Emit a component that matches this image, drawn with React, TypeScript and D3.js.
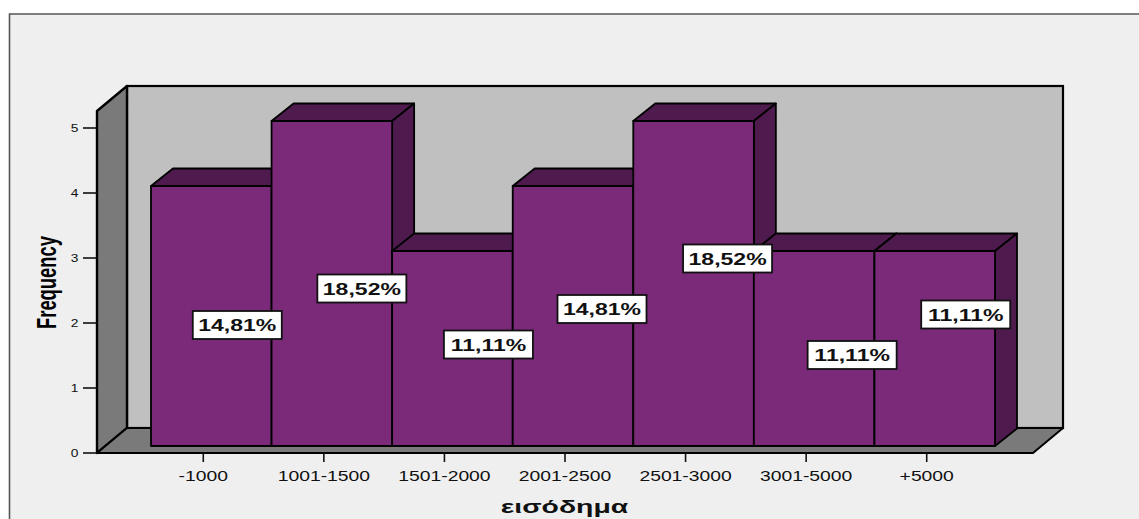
import React from "react";
import * as d3 from "d3";

const categories = ["-1000", "1001-1500", "1501-2000", "2001-2500", "2501-3000", "3001-5000", "+5000"];
const frequencies = [4, 5, 3, 4, 5, 3, 3];
const percentLabels = ["14,81%", "18,52%", "11,11%", "14,81%", "18,52%", "11,11%", "11,11%"];
const yTicks = [0, 1, 2, 3, 4, 5];
const xTitle = "εισόδημα";
const yTitle = "Frequency";

// Layout of the percent boxes (centre offset from bar centre, centre y in pixels)
const labelDx = [26, 30, 36, 29, 34, 38, 31];
const labelCy = [325, 288.5, 344.5, 309, 258.5, 355, 314.5];

const W = 1139, H = 519;
const FONT = "'Liberation Sans', Arial, sans-serif";
const PANEL = "#EFEFEF", WALL = "#C0C0C0", SIDE = "#7A7A7A", BAR = "#7B2979", BAR_DARK = "#4F1B4F";

const y = d3.scaleLinear().domain([0, 5]).range([453, 128]);
const x = d3.scaleBand<string>().domain(categories).range([151, 995]).padding(0);

const left = 97, right = 1033, top = 111, bottom = 453;
const dx = 30, dy = 25;          // depth of the chart box
const bdx = 22, bdy = 17.5;      // depth of the bars
const barLift = 7;               // bars stand in front of the axis plane
const tickShift = -8;

const poly = d3.line<[number, number]>().x(d => d[0]).y(d => d[1]);
const closed = (pts: [number, number][]) => poly(pts) + "Z";

function Stretched({ cx, base, sx, size, bold, children, fill = "#111" }: any) {
  return (
    <text
      transform={`translate(${cx},${base}) scale(${sx},1)`}
      textAnchor="middle"
      fontFamily={FONT}
      fontSize={size}
      fontWeight={bold ? 700 : 400}
      fill={fill}
    >
      {children}
    </text>
  );
}

export default function App() {
  const baseY = y(0) - barLift;
  return (
    <svg width={W} height={H} style={{ position: "absolute", left: 0, top: 0, background: "#fff" }}>
      {/* outer panel */}
      <rect x={9.5} y={14} width={W} height={H} fill={PANEL} />
      <path d={`M9.5,${H}V14H${W}`} fill="none" stroke="#555" strokeWidth={1.6} />

      {/* back wall */}
      <rect x={left + dx} y={top - dy} width={right - left} height={bottom - top} fill={WALL} stroke="#000" strokeWidth={2.2} />
      {/* side wall */}
      <path
        d={closed([[left, top], [left + dx, top - dy], [left + dx, bottom - dy], [left, bottom]])}
        fill={SIDE} stroke="#000" strokeWidth={2.4} strokeLinejoin="round"
      />
      {/* floor */}
      <path
        d={closed([[left, bottom], [left + dx, bottom - dy], [right + dx, bottom - dy], [right, bottom]])}
        fill={SIDE} stroke="#000" strokeWidth={2} strokeLinejoin="round"
      />

      {/* y axis */}
      {yTicks.map(t => (
        <g key={t}>
          <line x1={83} x2={left} y1={y(t)} y2={y(t)} stroke="#111" strokeWidth={1.6} />
          <Stretched cx={74.5} base={y(t) + 4} sx={1.25} size={11}>{t}</Stretched>
        </g>
      ))}
      <text
        transform={`translate(56,282.5) scale(1.5,1) rotate(-90)`}
        textAnchor="middle"
        fontFamily={FONT}
        fontSize={18.4}
        fontWeight={700}
        fill="#000"
      >
        {yTitle}
      </text>

      {/* bars */}
      {categories.map((c, i) => {
        const x0 = x(c)!;
        const x1 = x0 + x.bandwidth();
        const yt = y(frequencies[i]) - barLift;
        return (
          <g key={c} stroke="#000" strokeWidth={1.8} strokeLinejoin="round">
            <path d={closed([[x0, yt], [x0 + bdx, yt - bdy], [x1 + bdx, yt - bdy], [x1, yt]])} fill={BAR_DARK} />
            <path d={closed([[x1, yt], [x1 + bdx, yt - bdy], [x1 + bdx, baseY - bdy], [x1, baseY]])} fill={BAR_DARK} />
            <rect x={x0} y={yt} width={x1 - x0} height={baseY - yt} fill={BAR} />
          </g>
        );
      })}

      {/* x axis ticks and labels */}
      {categories.map(c => {
        const tx = x(c)! + x.bandwidth() / 2 + tickShift;
        return (
          <g key={c}>
            <line x1={tx} x2={tx} y1={bottom} y2={462} stroke="#111" strokeWidth={1.6} />
            <Stretched cx={tx} base={480.5} sx={1.38} size={14}>{c}</Stretched>
          </g>
        );
      })}
      <Stretched cx={564.5} base={512.5} sx={1.62} size={17.5} bold>{xTitle}</Stretched>

      {/* percent boxes */}
      {percentLabels.map((l, i) => {
        const c = x(categories[i])! + x.bandwidth() / 2 + labelDx[i];
        const cy = labelCy[i];
        return (
          <g key={i}>
            <rect x={c - 44.5} y={cy - 14} width={89} height={28} fill="#fff" stroke="#111" strokeWidth={1.8} />
            <Stretched cx={c} base={cy + 6} sx={1.44} size={16} bold>{l}</Stretched>
          </g>
        );
      })}
    </svg>
  );
}
